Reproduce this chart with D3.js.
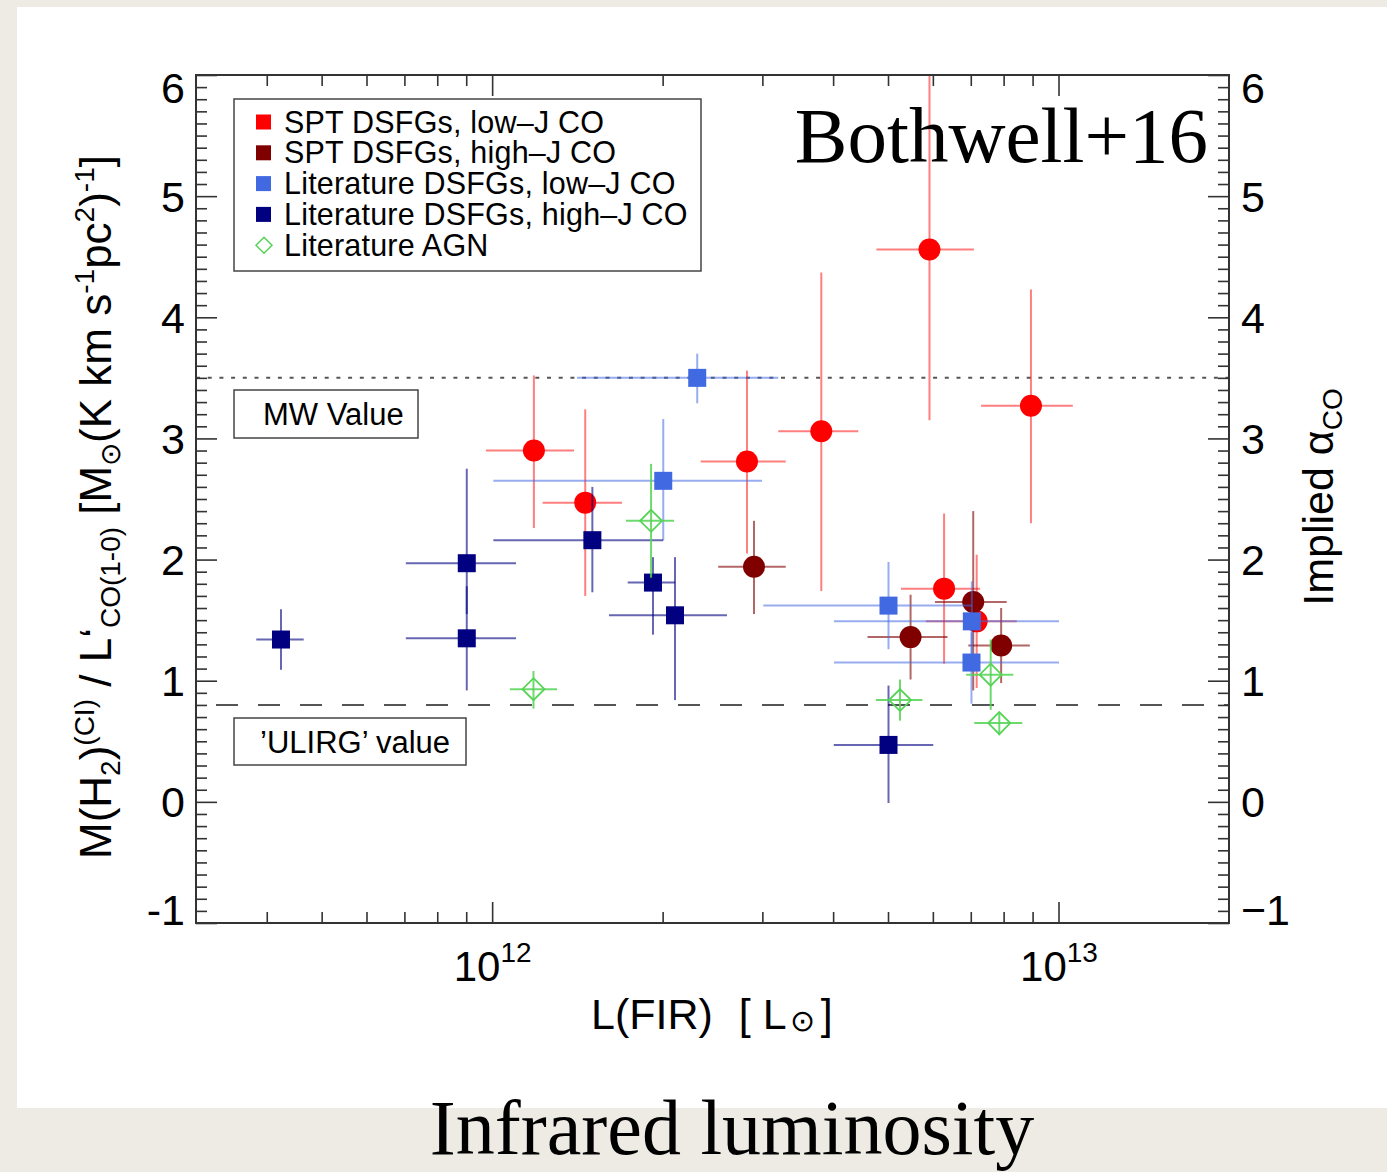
<!DOCTYPE html>
<html>
<head>
<meta charset="utf-8">
<script src="https://cdn.jsdelivr.net/npm/d3@7"></script>
<style>
  html, body { margin: 0; padding: 0; background: #eeebe5; }
  svg { display: block; }
  text { font-family: "Liberation Sans", Arial, Helvetica, sans-serif; fill: #000; white-space: pre; }
  .serif { font-family: "Liberation Serif", "Times New Roman", Times, serif; }
</style>
</head>
<body>
<svg id="chart" width="1387" height="1172"></svg>
<script>
// Each row: [L_FIR, L_lo, L_hi, ratio, ratio_lo, ratio_hi]  (L in solar luminosities)
const sptLowJ = [
  [1.185e12, 9.75e11, 1.395e12, 2.90, 2.26, 3.52],
  [1.46e12, 1.228e12, 1.696e12, 2.47, 1.70, 3.24],
  [2.818e12, 2.335e12, 3.299e12, 2.81, 2.05, 3.56],
  [3.812e12, 3.20e12, 4.43e12, 3.06, 1.74, 4.37],
  [5.918e12, 4.77e12, 7.09e12, 4.56, 3.15, 6.30],
  [6.28e12, 5.27e12, 7.27e12, 1.76, 1.14, 2.38],
  [7.17e12, 5.83e12, 8.44e12, 1.49, 0.94, 2.04],
  [8.94e12, 7.30e12, 1.06e13, 3.27, 2.30, 4.23]
];
const sptHighJ = [
  [2.90e12, 2.507e12, 3.299e12, 1.94, 1.55, 2.32],
  [5.48e12, 4.60e12, 6.37e12, 1.36, 1.01, 1.71],
  [7.07e12, 6.05e12, 8.10e12, 1.65, 0.92, 2.40],
  [7.92e12, 6.93e12, 8.90e12, 1.29, 0.98, 1.60]
];
const litLowJ = [
  [2.302e12, 1.412e12, 3.20e12, 3.50, 3.29, 3.70],
  [2.005e12, 1.005e12, 2.996e12, 2.65, 2.16, 3.16],
  [5.01e12, 3.012e12, 7.03e12, 1.62, 1.26, 1.98],
  [7.03e12, 4.014e12, 1.002e13, 1.49, 1.21, 1.82],
  [7.02e12, 4.014e12, 1.002e13, 1.15, 0.81, 1.40]
];
const litHighJ = [
  [4.238e11, 3.833e11, 4.648e11, 1.34, 1.09, 1.59],
  [9.02e11, 7.04e11, 1.102e12, 1.97, 1.55, 2.75],
  [9.02e11, 7.04e11, 1.102e12, 1.35, 0.92, 1.78],
  [1.503e12, 1.005e12, 2.005e12, 2.16, 1.73, 2.60],
  [1.923e12, 1.735e12, 2.103e12, 1.81, 1.38, 2.02],
  [2.103e12, 1.608e12, 2.598e12, 1.54, 0.84, 2.02],
  [5.01e12, 4.01e12, 6.01e12, 0.47, -0.01, 0.96]
];
const litAGN = [
  [1.183e12, 1.075e12, 1.302e12, 0.93, 0.77, 1.08],
  [1.908e12, 1.723e12, 2.095e12, 2.32, 1.85, 2.79],
  [5.25e12, 4.76e12, 5.75e12, 0.84, 0.67, 1.01],
  [7.59e12, 6.87e12, 8.32e12, 1.05, 0.76, 1.34],
  [7.86e12, 7.10e12, 8.63e12, 0.65, 0.55, 0.74]
];

const legendLabels = [
  "SPT DSFGs, low\u2013J CO",
  "SPT DSFGs, high\u2013J CO",
  "Literature DSFGs, low\u2013J CO",
  "Literature DSFGs, high\u2013J CO",
  "Literature AGN"
];

const xMajorTicks = [1e12, 1e13];
const xMinorTicks = [4e11, 5e11, 6e11, 7e11, 8e11, 9e11, 2e12, 3e12, 4e12, 5e12, 6e12, 7e12, 8e12, 9e12];
const xTickExponents = ["12", "13"];
const yMajorTicks = [-1, 0, 1, 2, 3, 4, 5, 6];
const yLeftLabels = ["-1", "0", "1", "2", "3", "4", "5", "6"];
const yRightLabels = ["\u22121", "0", "1", "2", "3", "4", "5", "6"];
const mwValue = 3.5;
const ulirgValue = 0.8;

// ---- layout ----
const W = 1387, H = 1172;
const plot = { left: 196, right: 1229, top: 75, bottom: 923 };

const svg = d3.select("#chart");

// page background and white panel
svg.append("rect").attr("width", W).attr("height", H).attr("fill", "#eeebe5");
svg.append("rect").attr("x", 17).attr("y", 7).attr("width", W - 17).attr("height", 1101).attr("fill", "#ffffff");

const x = d3.scaleLog().domain([3e11, 2e13]).range([plot.left, plot.right]);
const y = d3.scaleLinear().domain([-1, 6]).range([plot.bottom, plot.top]);

svg.append("clipPath").attr("id", "plotclip")
  .append("rect").attr("x", plot.left).attr("y", plot.top)
  .attr("width", plot.right - plot.left).attr("height", plot.bottom - plot.top);

// ---- reference lines ----
const refs = svg.append("g").attr("clip-path", "url(#plotclip)");
refs.append("line")
  .attr("x1", plot.left).attr("x2", plot.right)
  .attr("y1", y(mwValue)).attr("y2", y(mwValue))
  .attr("stroke", "#555").attr("stroke-width", 2).attr("stroke-dasharray", "4,7.7");
refs.append("line")
  .attr("x1", plot.left).attr("x2", plot.right)
  .attr("y1", y(ulirgValue)).attr("y2", y(ulirgValue))
  .attr("stroke", "#555").attr("stroke-width", 2).attr("stroke-dasharray", "22,20")
  .attr("stroke-dashoffset", -20);

// ---- data ----
const dataLayer = svg.append("g").attr("clip-path", "url(#plotclip)");

function errorBars(rows, color, opacity) {
  const g = dataLayer.append("g")
    .attr("stroke", color).attr("stroke-opacity", opacity).attr("stroke-width", 2).attr("fill", "none");
  g.selectAll("line.h").data(rows).join("line").attr("class", "h")
    .attr("x1", d => x(d[1])).attr("x2", d => x(d[2]))
    .attr("y1", d => y(d[3])).attr("y2", d => y(d[3]));
  g.selectAll("line.v").data(rows).join("line").attr("class", "v")
    .attr("x1", d => x(d[0])).attr("x2", d => x(d[0]))
    .attr("y1", d => y(d[4])).attr("y2", d => y(d[5]));
}
function circles(rows, color) {
  dataLayer.append("g").selectAll("circle").data(rows).join("circle")
    .attr("cx", d => x(d[0])).attr("cy", d => y(d[3])).attr("r", 11).attr("fill", color);
}
function squares(rows, color) {
  const s = 18;
  dataLayer.append("g").selectAll("rect").data(rows).join("rect")
    .attr("x", d => x(d[0]) - s / 2).attr("y", d => y(d[3]) - s / 2)
    .attr("width", s).attr("height", s).attr("fill", color);
}
function diamondPath(cx, cy, r) {
  return `M${cx},${cy - r}L${cx + r},${cy}L${cx},${cy + r}L${cx - r},${cy}Z`;
}
function diamonds(rows, color) {
  dataLayer.append("g").selectAll("path").data(rows).join("path")
    .attr("d", d => diamondPath(x(d[0]), y(d[3]), 11))
    .attr("fill", "none").attr("stroke", color).attr("stroke-width", 1.8);
}

const cRed = "#ff0000", cDark = "#800000", cBlue = "#4169e1", cNavy = "#000080", cGreen = "#55d455";

errorBars(sptLowJ, cRed, 0.5);
circles(sptLowJ, cRed);
errorBars(sptHighJ, cDark, 0.6);
circles(sptHighJ, cDark);
errorBars(litLowJ, cBlue, 0.55);
squares(litLowJ, cBlue);
errorBars(litHighJ, cNavy, 0.6);
squares(litHighJ, cNavy);
errorBars(litAGN, cGreen, 0.85);
diamonds(litAGN, cGreen);

// ---- axes ----
const tickColor = "#333";
function styleAxis(g) {
  g.select(".domain").remove();
  g.selectAll(".tick line").attr("stroke", tickColor).attr("stroke-width", 1.6);
}
// bottom
const gB = svg.append("g").attr("transform", `translate(0,${plot.bottom})`)
  .call(d3.axisBottom(x).tickValues(xMajorTicks).tickSize(-21).tickPadding(0).tickFormat(() => ""))
  .call(styleAxis);
svg.append("g").attr("transform", `translate(0,${plot.bottom})`)
  .call(d3.axisBottom(x).tickValues(xMinorTicks).tickSize(-11).tickFormat(() => ""))
  .call(styleAxis);
gB.selectAll(".tick text").each(function(d, i) {
  const t = d3.select(this).attr("y", 58).attr("dy", null)
    .attr("font-size", 42).attr("text-anchor", "middle").attr("fill", "#000");
  t.append("tspan").text("10");
  t.append("tspan").attr("font-size", 28).attr("dy", -19).text(xTickExponents[i]);
});
gB.attr("font-family", null).attr("font-size", null);
// top
svg.append("g").attr("transform", `translate(0,${plot.top})`)
  .call(d3.axisTop(x).tickValues(xMajorTicks).tickSize(-21).tickFormat(() => ""))
  .call(styleAxis);
svg.append("g").attr("transform", `translate(0,${plot.top})`)
  .call(d3.axisTop(x).tickValues(xMinorTicks).tickSize(-11).tickFormat(() => ""))
  .call(styleAxis);

const yMinorTicks = d3.range(-10, 61).map(v => v / 10).filter(v => !Number.isInteger(v));

function yLabels(g, labels) {
  g.attr("font-family", null).attr("font-size", null);
  g.selectAll(".tick text")
    .attr("font-size", 43).attr("fill", "#000")
    .attr("dy", (d) => d === 6 ? "0.64em" : d === -1 ? "0.04em" : "0.35em")
    .text((d, i) => labels[i]);
}
// left
svg.append("g").attr("transform", `translate(${plot.left},0)`)
  .call(d3.axisLeft(y).tickValues(yMajorTicks).tickSize(-21).tickPadding(11))
  .call(styleAxis).call(g => yLabels(g, yLeftLabels));
svg.append("g").attr("transform", `translate(${plot.left},0)`)
  .call(d3.axisLeft(y).tickValues(yMinorTicks).tickSize(-11).tickFormat(() => ""))
  .call(styleAxis);
// right
svg.append("g").attr("transform", `translate(${plot.right},0)`)
  .call(d3.axisRight(y).tickValues(yMajorTicks).tickSize(-21).tickPadding(12))
  .call(styleAxis).call(g => yLabels(g, yRightLabels));
svg.append("g").attr("transform", `translate(${plot.right},0)`)
  .call(d3.axisRight(y).tickValues(yMinorTicks).tickSize(-11).tickFormat(() => ""))
  .call(styleAxis);

// frame
svg.append("rect")
  .attr("x", plot.left).attr("y", plot.top)
  .attr("width", plot.right - plot.left).attr("height", plot.bottom - plot.top)
  .attr("fill", "none").attr("stroke", "#333").attr("stroke-width", 2);

// ---- legend ----
const leg = svg.append("g");
leg.append("rect").attr("x", 234).attr("y", 99).attr("width", 467).attr("height", 172)
  .attr("fill", "none").attr("stroke", "#444").attr("stroke-width", 1.5);
const legendColors = [cRed, cDark, cBlue, cNavy, cGreen];
legendLabels.forEach((lab, i) => {
  const cy = 122 + i * 30.8;
  if (i < 4) {
    leg.append("rect").attr("x", 256).attr("y", cy - 7.5).attr("width", 15).attr("height", 15)
      .attr("fill", legendColors[i]);
  } else {
    leg.append("path").attr("d", diamondPath(264, cy, 8))
      .attr("fill", "none").attr("stroke", legendColors[i]).attr("stroke-width", 1.5);
  }
  leg.append("text").attr("x", 284).attr("y", cy + 10.5).attr("font-size", 30.5)
    .attr("letter-spacing", 0.2).text(lab);
});

// reference-line annotations
function labelBox(x0, y0, w, h, tx, txt) {
  svg.append("rect").attr("x", x0).attr("y", y0).attr("width", w).attr("height", h)
    .attr("fill", "#fff").attr("stroke", "#444").attr("stroke-width", 1.5);
  svg.append("text").attr("x", tx).attr("y", y0 + h / 2 + 11).attr("font-size", 31).text(txt);
}
labelBox(234, 390, 184, 48, 263, "MW Value");
labelBox(234, 718, 232, 47, 260, "\u2019ULIRG\u2019 value");

// ---- axis titles ----
const yt = svg.append("text")
  .attr("transform", "translate(111,507) rotate(-90)")
  .attr("text-anchor", "middle").attr("font-size", 44);
const sub = 28;
yt.append("tspan").text("M(H");
yt.append("tspan").attr("font-size", sub).attr("dy", 9).text("2");
yt.append("tspan").attr("dy", -9).text(")");
yt.append("tspan").attr("font-size", sub).attr("dy", -17).text("(CI)");
yt.append("tspan").attr("dy", 17).text(" / L\u2018");
yt.append("tspan").attr("font-size", sub).attr("dy", 9).text("CO(1-0)");
yt.append("tspan").attr("dy", -9).text(" [M");
yt.append("tspan").attr("font-size", sub).attr("dy", 9).text("\u2299");
yt.append("tspan").attr("dy", -9).text("(K km s");
yt.append("tspan").attr("font-size", sub).attr("dy", -17).text("-1");
yt.append("tspan").attr("dy", 17).text("pc");
yt.append("tspan").attr("font-size", sub).attr("dy", -17).text("2");
yt.append("tspan").attr("dy", 17).text(")");
yt.append("tspan").attr("font-size", sub).attr("dy", -17).text("-1");
yt.append("tspan").attr("dy", 17).text("]");

const yr = svg.append("text")
  .attr("transform", "translate(1333,497) rotate(-90)")
  .attr("text-anchor", "middle").attr("font-size", 43);
yr.append("tspan").text("Implied \u03b1");
yr.append("tspan").attr("font-size", sub).attr("dy", 9).text("CO");

const xt = svg.append("text").attr("x", 591).attr("y", 1029).attr("font-size", 43);
xt.append("tspan").text("L(FIR)");
xt.append("tspan").attr("dx", 26).text("[ L");
xt.append("tspan").attr("font-size", 30).attr("dx", 3).attr("dy", 2).text("\u2299");
xt.append("tspan").attr("dy", -2).attr("dx", 6).text("]");

// ---- annotations ----
svg.append("text").attr("class", "serif")
  .attr("x", 1208).attr("y", 162).attr("text-anchor", "end").attr("font-size", 79)
  .text("Bothwell+16");
svg.append("text").attr("class", "serif")
  .attr("x", 732).attr("y", 1154).attr("text-anchor", "middle").attr("font-size", 78)
  .text("Infrared luminosity");
</script>
</body>
</html>
